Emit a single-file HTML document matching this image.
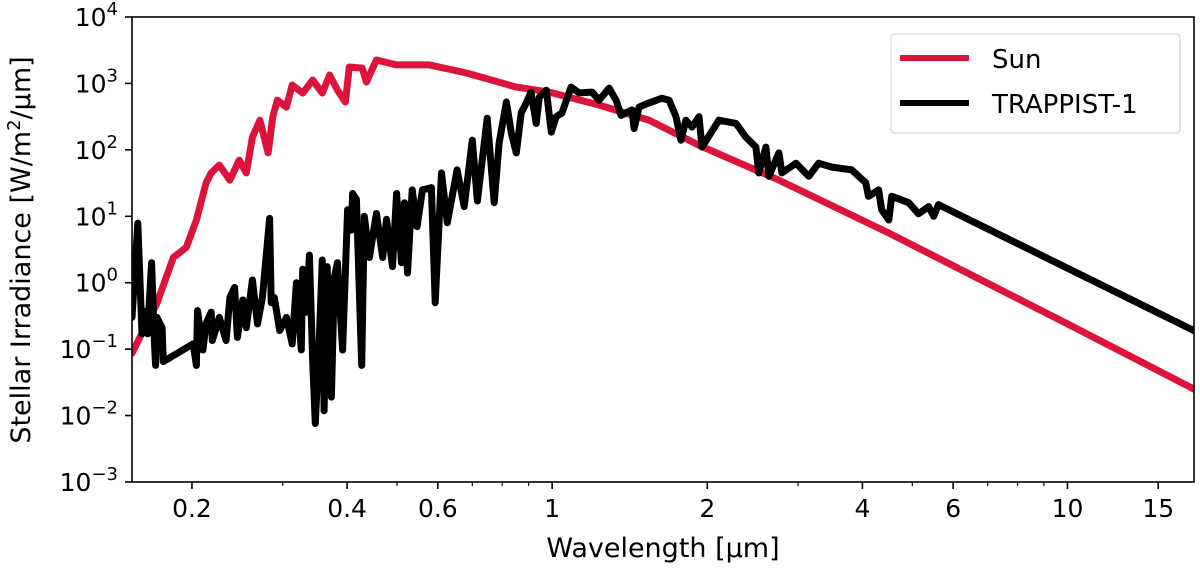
<!DOCTYPE html>
<html><head><meta charset="utf-8"><style>
body{margin:0;background:#fff;}
svg{display:block;font-family:"DejaVu Sans","Liberation Sans",sans-serif;}
</style></head><body>
<svg id="chart" width="1200" height="568" viewBox="0 0 1200 568">
<g id="marks"></g>
<g id="axes"></g>
<text x="30" y="250" font-size="27" text-anchor="middle" transform="rotate(-90 30 250)">Stellar Irradiance [W/m<tspan dy="-10" font-size="18">2</tspan><tspan dy="10">/µm]</tspan></text>
<text x="663" y="557" font-size="27" text-anchor="middle">Wavelength [µm]</text>
<g>
<rect x="891" y="34" width="289" height="99" rx="4" fill="#fff" stroke="#ddd" stroke-width="1.5"/>
<line x1="900" y1="58" x2="969" y2="58" stroke="#dc143c" stroke-width="6"/>
<text x="992" y="68" font-size="26">Sun</text>
<line x1="900" y1="103" x2="969" y2="103" stroke="#000" stroke-width="6"/>
<text x="992" y="113" font-size="26">TRAPPIST-1</text>
</g>
</svg>
<script>
const sunWl=[0.153,0.171,0.184,0.195,0.204,0.213,0.218,0.226,0.237,0.247,0.255,0.262,0.271,0.281,0.287,0.293,0.305,0.313,0.328,0.343,0.358,0.370,0.383,0.397,0.404,0.428,0.436,0.456,0.499,0.578,0.682,0.852,0.987,1.233,1.542,1.927,2.754,4.50,10,17.6];
const sunVal=[0.087,0.49,2.4,3.4,8.8,31.6,45,59,35,70,45,155,280,90,316,562,440,946,716,1125,716,1340,795,525,1766,1700,1050,2250,1900,1900,1435,880,740,473,280,117,35,5.6,0.24,0.025];
const trWl=[0.153,0.157,0.160,0.162,0.164,0.167,0.169,0.170,0.171,0.175,0.176,0.201,0.204,0.205,0.210,0.213,0.218,0.219,0.226,0.233,0.237,0.242,0.245,0.251,0.255,0.262,0.268,0.274,0.283,0.285,0.289,0.296,0.305,0.313,0.319,0.326,0.328,0.334,0.338,0.343,0.347,0.353,0.358,0.361,0.366,0.373,0.378,0.383,0.392,0.401,0.408,0.410,0.417,0.427,0.432,0.442,0.456,0.469,0.477,0.490,0.499,0.510,0.517,0.524,0.535,0.547,0.560,0.583,0.593,0.610,0.626,0.654,0.675,0.700,0.716,0.748,0.772,0.789,0.815,0.833,0.852,0.871,0.891,0.910,0.931,0.944,0.974,0.996,1.018,1.045,1.088,1.128,1.195,1.233,1.290,1.331,1.361,1.429,1.442,1.475,1.542,1.634,1.686,1.739,1.778,1.818,1.868,1.927,1.953,2.107,2.274,2.377,2.485,2.518,2.599,2.634,2.754,2.791,2.971,3.148,3.290,3.489,3.815,4.06,4.11,4.30,4.36,4.50,4.56,4.92,5.14,5.38,5.50,5.62,17.6];
const trVal=[0.30,7.9,0.17,0.37,0.17,2.0,0.135,0.057,0.30,0.21,0.065,0.12,0.057,0.38,0.097,0.24,0.36,0.135,0.30,0.135,0.60,0.85,0.15,0.55,0.21,1.1,0.24,0.60,9.3,0.50,0.6,0.19,0.30,0.12,1.0,0.097,1.6,0.36,2.6,0.065,0.0076,0.12,2.2,0.0118,1.75,0.019,1.2,2.0,0.097,12.5,6.2,22,18,0.057,10,2.4,11,2.4,9,1.75,22,2.0,16,1.4,25,7.0,25,27,0.5,45,8,50,14,140,17,300,16,126,525,180,90,360,510,740,250,620,790,185,316,360,880,720,740,560,850,560,330,400,210,440,510,600,560,316,140,280,220,316,110,280,250,155,110,45,110,40,90,45,63,40,63,55,50,32,20,25,12.5,8.8,20,16,10.9,14,10,15,0.19];
const xTicks=[0.2,0.4,0.6,1,2,4,6,10,15];
const xTickLabels=["0.2","0.4","0.6","1","2","4","6","10","15"];
const xMinor=[0.3,0.5,0.7,0.8,0.9,3,5,7,8,9];
const yTicks=[4,3,2,1,0,-1,-2,-3];
const yTickLabels=["4","3","2","1","0","\u22121","\u22122","\u22123"];

const L=132,R=1194,T=17,B=482;
const xMin=Math.log10(0.153),xMax=Math.log10(17.6);
const X=v=>L+(Math.log10(v)-xMin)/(xMax-xMin)*(R-L);
const Y=v=>B-(Math.log10(v)+3)/7*(B-T);
const NS="http://www.w3.org/2000/svg";
const marks=document.getElementById('marks'),axes=document.getElementById('axes');
function mk(tag,attrs,parent){const e=document.createElementNS(NS,tag);for(const k in attrs)e.setAttribute(k,attrs[k]);parent.appendChild(e);return e;}

const cp=mk('clipPath',{id:'clip'},marks);mk('rect',{x:L,y:T,width:R-L,height:B-T},cp);
function line(wl,val,color,name){
  const d=wl.map((w,i)=>(i?'L':'M')+X(w).toFixed(1)+' '+Y(val[i]).toFixed(1)).join(' ');
  const p=mk('path',{d:d,fill:'none',stroke:color,'stroke-width':7,'stroke-linejoin':'round','stroke-linecap':'round','clip-path':'url(#clip)'},marks);
  
  
}
line(sunWl,sunVal,'#dc143c','sun-series');
line(trWl,trVal,'#000','trappist-1-series');

const fr=mk('rect',{x:L,y:T,width:R-L,height:B-T,fill:'none',stroke:'#000','stroke-width':1.6},axes);


xTicks.forEach((v,i)=>{
  const x=X(v);
  const t=mk('line',{x1:x,x2:x,y1:B,y2:B+7,stroke:'#000','stroke-width':1.6},axes);
  
  
  const tx=mk('text',{x:x,y:B+35,'font-size':25,'text-anchor':'middle'},axes);
  tx.textContent=xTickLabels[i];
  
  
});
xMinor.forEach(v=>{
  const x=X(v);
  const t=mk('line',{x1:x,x2:x,y1:B,y2:B+4,stroke:'#000','stroke-width':1.2},axes);
  
  
});
yTicks.forEach((e,i)=>{
  const y=Y(Math.pow(10,e));
  const t=mk('line',{x1:L-7,x2:L,y1:y,y2:y,stroke:'#000','stroke-width':1.6},axes);
  
  
  const tx=mk('text',{x:118,y:y+9,'font-size':25,'text-anchor':'end'},axes);
  const a=mk('tspan',{},tx);a.textContent='10';
  const b=mk('tspan',{dy:-11,'font-size':18},tx);b.textContent=yTickLabels[i];
  
  
});
</script>
</body></html>
